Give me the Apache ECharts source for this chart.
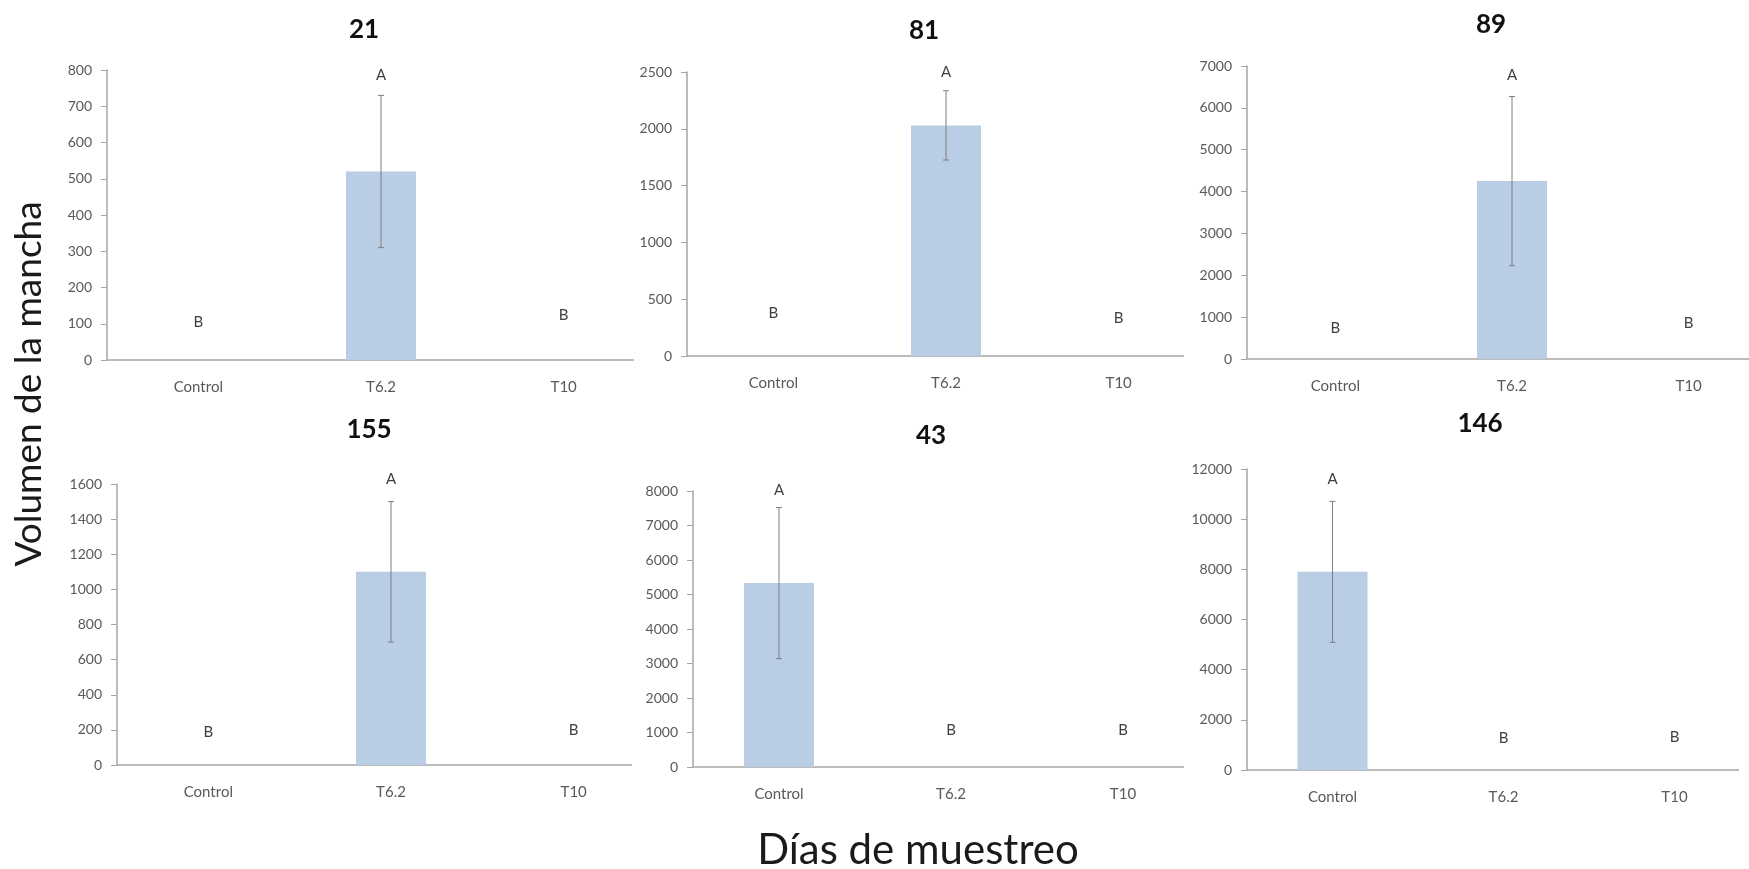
<!DOCTYPE html>
<html>
<head>
<meta charset="utf-8">
<script src="https://cdn.jsdelivr.net/npm/echarts@6/dist/echarts.min.js"></script>
<style>
  html, body { margin: 0; padding: 0; background: #ffffff; }
  #chart { width: 1749px; height: 869px; }
</style>
</head>
<body>
<div id="chart"></div>
<script>
// Treatments shown on every panel
const categories = ['Control', 'T6.2', 'T10'];
// Sampling day of each panel
const panelTitles = ['21', '81', '89', '155', '43', '146'];
// Mean spot volume per treatment, one row per panel
const means = [
  [0, 520, 0],
  [0, 2030, 0],
  [0, 4250, 0],
  [0, 1100, 0],
  [5330, 0, 0],
  [7900, 0, 0]
];
// Error (± one deviation) per treatment
const errors = [
  [0, 210, 0],
  [0, 305, 0],
  [0, 2020, 0],
  [0, 400, 0],
  [2190, 0, 0],
  [2810, 0, 0]
];
// Significance letters and the value height they sit at
const letters = [
  ['B', 'A', 'B'],
  ['B', 'A', 'B'],
  ['B', 'A', 'B'],
  ['B', 'A', 'B'],
  ['A', 'B', 'B'],
  ['A', 'B', 'B']
];
const letterHeights = [
  [105, 786, 124],
  [378, 2500, 334],
  [740, 6785, 860],
  [188, 1628, 199],
  [8030, 1072, 1072],
  [11600, 1275, 1316]
];
// Value axis range and step per panel
const yMax = [800, 2500, 7000, 1600, 8000, 12000];
const yStep = [100, 500, 1000, 200, 1000, 2000];

// Plot boxes of the six panels (left, top, width, height)
const boxes = [
  [107, 70, 548, 290],
  [687, 72, 518, 284],
  [1247, 66, 530, 293],
  [117, 484, 548, 281],
  [693, 491, 516, 276],
  [1247, 469, 513, 301]
];
// Panel title centres
const titlePos = [
  [364, 30], [924, 31], [1491, 25],
  [369, 430], [931, 436], [1480, 424]
];
// White backing of the neighbouring panels, which hides the overhang of each category axis
const backings = [
  [634, 335, 52, 50],
  [1184, 335, 62, 50],
  [632, 745, 60, 45],
  [1184, 745, 62, 45],
  [1739, 745, 20, 45]
];

const FONT = 'Lato, "Open Sans", sans-serif';
const AXIS_GREY = '#a6a6a6';
const LABEL_GREY = '#595959';
const BAR_BLUE = '#b9cde5';

const chart = echarts.init(document.getElementById('chart'), null, { renderer: 'canvas' });

const grid = [], xAxis = [], yAxis = [], series = [], graphic = [];

panelTitles.forEach((t, i) => {
  const [l, tp, w, h] = boxes[i];
  grid.push({
    left: l, top: tp, width: w, height: h,
    containLabel: false, outerBoundsMode: 'none'
  });
  xAxis.push({
    type: 'category', gridIndex: i, data: categories, z: 1,
    axisLine: { lineStyle: { color: AXIS_GREY, width: 1.5 } },
    axisTick: { show: false },
    axisLabel: { color: LABEL_GREY, fontFamily: FONT, fontSize: 15, margin: 20 },
    splitLine: { show: false }
  });
  yAxis.push({
    type: 'value', gridIndex: i, min: 0, max: yMax[i], interval: yStep[i], z: 10,
    axisLine: { show: true, lineStyle: { color: AXIS_GREY, width: 1.5 } },
    axisTick: { show: true, inside: false, length: 6, lineStyle: { color: AXIS_GREY } },
    axisLabel: {
      color: LABEL_GREY, fontFamily: FONT, fontSize: 14, margin: 15,
      formatter: v => String(v)
    },
    splitLine: { show: false }
  });

  series.push({
    type: 'bar', xAxisIndex: i, yAxisIndex: i,
    data: means[i], barWidth: 70,
    itemStyle: { color: BAR_BLUE },
    silent: true, animation: false
  });

  // error whiskers
  series.push({
    type: 'custom', xAxisIndex: i, yAxisIndex: i,
    data: means[i].map((m, k) => [k, m, errors[i][k]]),
    animation: false, silent: true, z: 3,
    renderItem: (params, api) => {
      const e = api.value(2);
      if (!e) return null;
      const k = api.value(0), m = api.value(1);
      const hi = api.coord([k, m + e]);
      const lo = api.coord([k, m - e]);
      const cap = 3;
      const st = { stroke: '#7f7f7f', lineWidth: 1 };
      return {
        type: 'group',
        children: [
          { type: 'line', shape: { x1: hi[0], y1: hi[1], x2: lo[0], y2: lo[1] }, style: st },
          { type: 'line', shape: { x1: hi[0] - cap, y1: hi[1], x2: hi[0] + cap, y2: hi[1] }, style: st },
          { type: 'line', shape: { x1: lo[0] - cap, y1: lo[1], x2: lo[0] + cap, y2: lo[1] }, style: st }
        ]
      };
    }
  });

  // significance letters
  series.push({
    type: 'custom', xAxisIndex: i, yAxisIndex: i,
    data: letterHeights[i].map((v, k) => [k, v]),
    animation: false, silent: true, z: 4, clip: false,
    renderItem: (params, api) => {
      const k = api.value(0);
      const p = api.coord([k, api.value(1)]);
      return {
        type: 'text',
        style: {
          x: p[0], y: p[1], text: letters[i][k],
          fill: '#404040', font: '15px ' + FONT,
          align: 'center', verticalAlign: 'middle'
        }
      };
    }
  });

  graphic.push({
    type: 'text', x: titlePos[i][0], y: titlePos[i][1], silent: true,
    style: {
      text: t, fill: '#111111', font: 'bold 26px ' + FONT,
      align: 'center', verticalAlign: 'middle'
    }
  });
});

backings.forEach(([x, y, w, h]) => {
  graphic.push({
    type: 'rect', z: 5, silent: true,
    shape: { x, y, width: w, height: h },
    style: { fill: '#ffffff' }
  });
});

graphic.push({
  type: 'text', x: 29, y: 384, rotation: Math.PI / 2, silent: true,
  style: {
    text: 'Volumen de la mancha', fill: '#1a1a1a', font: '37px ' + FONT,
    align: 'center', verticalAlign: 'middle'
  }
});
graphic.push({
  type: 'text', x: 918, y: 850, silent: true,
  style: {
    text: 'Días de muestreo', fill: '#1a1a1a', font: '42px ' + FONT,
    align: 'center', verticalAlign: 'middle'
  }
});

chart.setOption({
  backgroundColor: '#ffffff',
  animation: false,
  grid, xAxis, yAxis, series, graphic
});
</script>
</body>
</html>
